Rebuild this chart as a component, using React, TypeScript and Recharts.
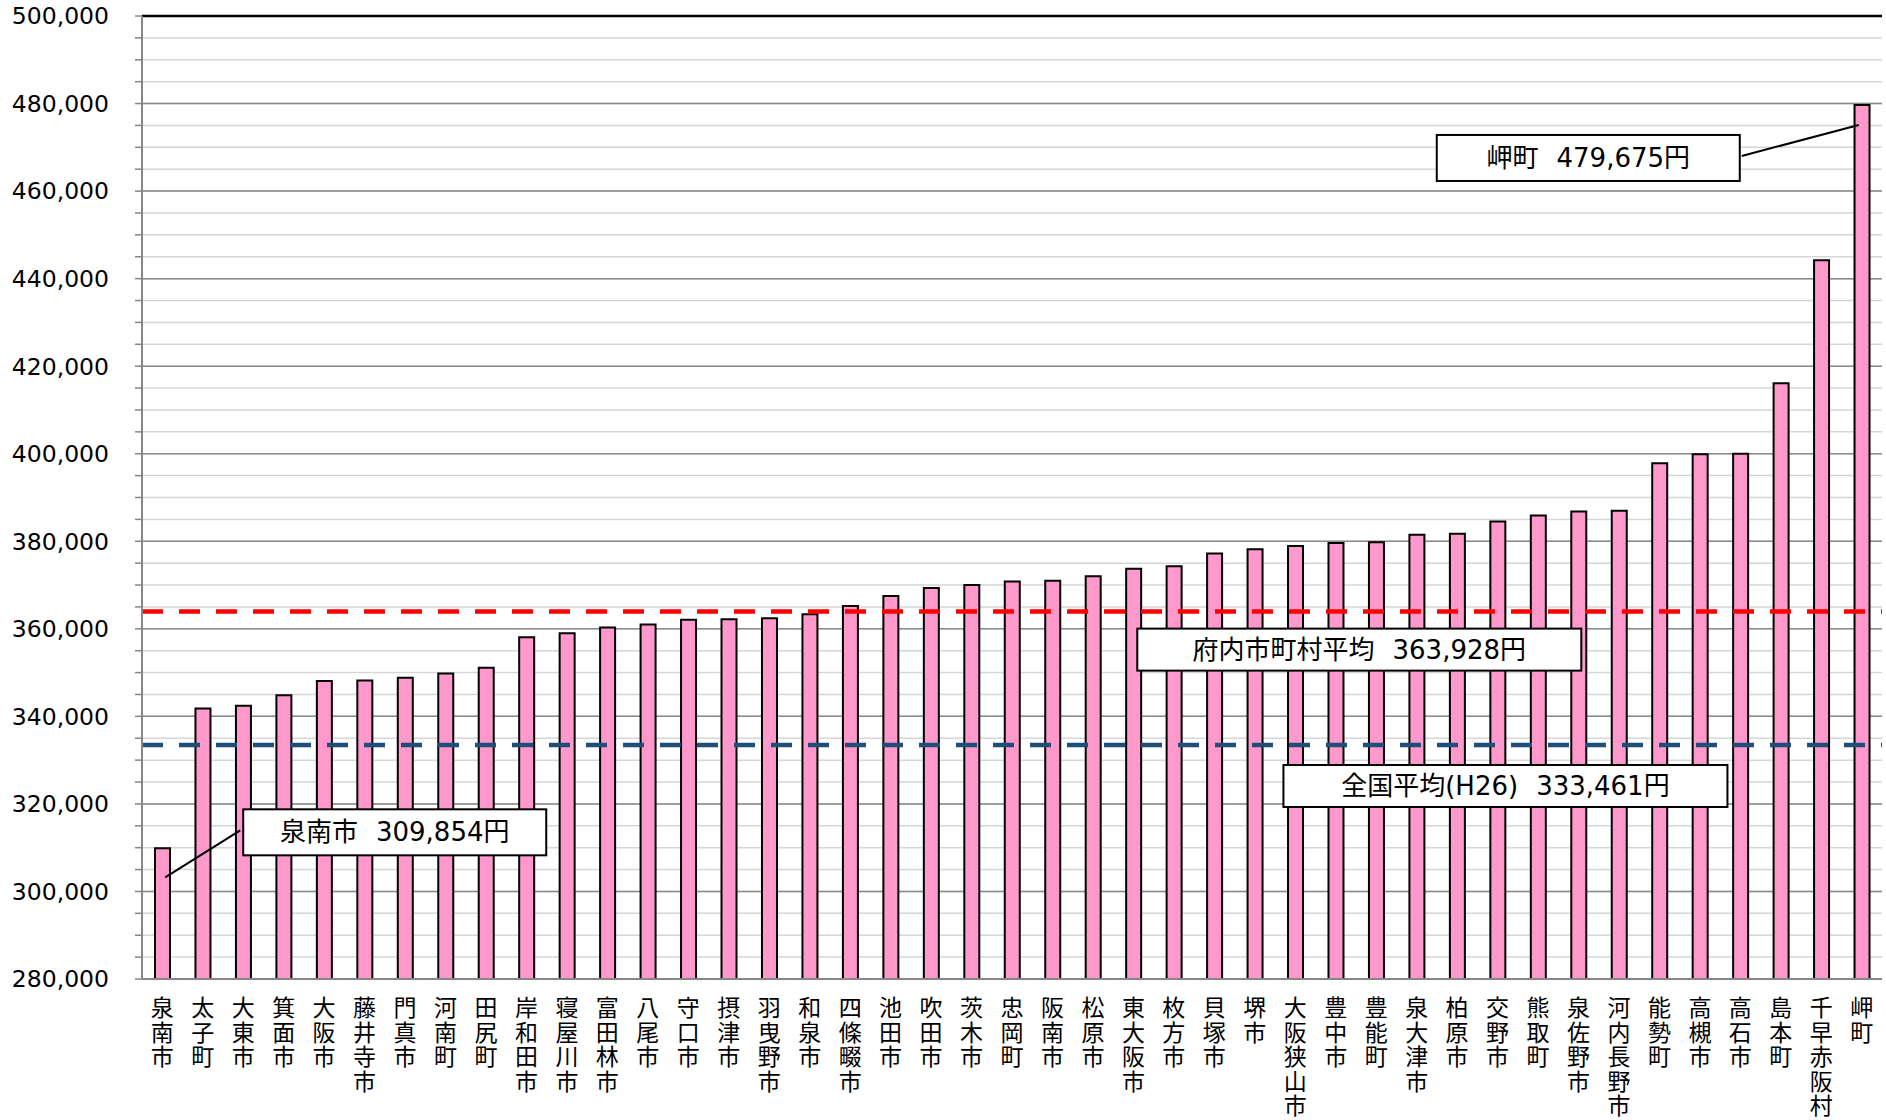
import React from "react";
import {
  Bar,
  BarChart,
  CartesianGrid,
  ReferenceDot,
  ReferenceLine,
  XAxis,
  YAxis,
} from "recharts";

// 市町村別 一人当たり費用額（昇順）
const cities = [
  "泉南市", "太子町", "大東市", "箕面市", "大阪市", "藤井寺市", "門真市", "河南町",
  "田尻町", "岸和田市", "寝屋川市", "富田林市", "八尾市", "守口市", "摂津市", "羽曳野市",
  "和泉市", "四條畷市", "池田市", "吹田市", "茨木市", "忠岡町", "阪南市", "松原市",
  "東大阪市", "枚方市", "貝塚市", "堺市", "大阪狭山市", "豊中市", "豊能町", "泉大津市",
  "柏原市", "交野市", "熊取町", "泉佐野市", "河内長野市", "能勢町", "高槻市", "高石市",
  "島本町", "千早赤阪村", "岬町",
];
const costs = [
  309854, 341800, 342400, 344800, 348100, 348200, 348800, 349800,
  351100, 358100, 359000, 360300, 361000, 362100, 362200, 362400,
  363300, 365200, 367500, 369300, 370000, 370800, 371000, 372000,
  373700, 374300, 377200, 378200, 378900, 379600, 379800, 381500,
  381700, 384500, 385900, 386800, 387000, 397800, 399900, 400000,
  416100, 444200, 479675,
];
const prefAverage = 363928;
const nationalAverage = 333461;

const yMin = 280000;
const yMax = 500000;
const majorTicks = [
  280000, 300000, 320000, 340000, 360000, 380000, 400000, 420000, 440000, 460000, 480000, 500000,
];
const minorTicks = [
  280000, 285000, 290000, 295000, 300000, 305000, 310000, 315000, 320000, 325000, 330000, 335000,
  340000, 345000, 350000, 355000, 360000, 365000, 370000, 375000, 380000, 385000, 390000, 395000,
  400000, 405000, 410000, 415000, 420000, 425000, 430000, 435000, 440000, 445000, 450000, 455000,
  460000, 465000, 470000, 475000, 480000, 485000, 490000, 495000, 500000,
];

const data = cities.map((name, i) => ({ name, cost: costs[i] }));

const LABEL_FONT = "'DejaVu Sans', 'Noto Sans CJK JP', sans-serif";
const yen = (v: number) => v.toLocaleString("en-US");

function CityTick({ x, y, payload }: any) {
  const chars = Array.from(String(payload.value));
  return (
    <text x={x} y={y} textAnchor="middle" fontSize={23} fontFamily="'Noto Sans CJK JP'" fill="#000">
      {chars.map((c, i) => (
        <tspan key={i} x={x} dy={i === 0 ? 37 : 24.5}>
          {c}
        </tspan>
      ))}
    </text>
  );
}

function BoxText({ cx, cy, name, value }: { cx: number; cy: number; name: string; value: number }) {
  return (
    <text x={cx} y={cy + 9} textAnchor="middle" fontSize={26} fontFamily={LABEL_FONT} fill="#000">
      <tspan>{name}</tspan>
      <tspan dx={18}>{yen(value)}円</tspan>
    </text>
  );
}

// 平均線のラベル（線の下に置く箱）
function AvgLabel({ viewBox, name, value, at, gap }: any) {
  if (!viewBox) return null;
  const w = 444;
  const h = 42;
  const left = viewBox.x + viewBox.width * at;
  const top = viewBox.y + gap;
  return (
    <g>
      <rect x={left} y={top} width={w} height={h} fill="#fff" stroke="#000" strokeWidth={2} />
      <BoxText cx={left + w / 2} cy={top + h / 2} name={name} value={value} />
    </g>
  );
}

// 引出線付きの吹き出し
function Callout({ cx, cy, name, value, lx, ly, ex, ey, bx, by }: any) {
  if (cx == null || cy == null) return null;
  const w = 303;
  const h = 46;
  return (
    <g>
      <line x1={cx + lx} y1={cy + ly} x2={cx + ex} y2={cy + ey} stroke="#000" strokeWidth={2} />
      <rect x={cx + bx} y={cy + by} width={w} height={h} fill="#fff" stroke="#000" strokeWidth={2} />
      <BoxText cx={cx + bx + w / 2} cy={cy + by + h / 2} name={name} value={value} />
    </g>
  );
}

export default function App() {
  const first = data[0];
  const last = data[data.length - 1];
  return (
    <div
      style={{
        position: "absolute",
        left: 0,
        top: 0,
        width: 1886,
        height: 1120,
        background: "#fff",
        overflow: "hidden",
      }}
    >
      <BarChart
        width={1886}
        height={1120}
        data={data}
        margin={{ top: 16, right: 4, bottom: 0, left: 0 }}
      >
        <CartesianGrid
          vertical={false}
          horizontalValues={minorTicks.filter((v) => v < yMax)}
          stroke="#d6d6d6"
          strokeWidth={1.5}
        />
        <CartesianGrid
          vertical={false}
          horizontalValues={majorTicks.filter((v) => v < yMax)}
          stroke="#8a8a8a"
          strokeWidth={1.5}
        />
        <XAxis
          dataKey="name"
          interval={0}
          height={141}
          tickSize={0}
          tickMargin={0}
          tickLine={false}
          tick={<CityTick />}
          axisLine={{ stroke: "#868686", strokeWidth: 2 }}
        />
        <YAxis
          domain={[yMin, yMax]}
          ticks={minorTicks}
          interval={0}
          width={142}
          tickSize={7}
          tickMargin={26}
          tickFormatter={(v: number) => (majorTicks.includes(v) ? yen(v) : "")}
          tick={{ fontSize: 23.5, fill: "#000", fontFamily: "'DejaVu Sans'" }}
          tickLine={{ stroke: "#868686", strokeWidth: 1.5 }}
          axisLine={{ stroke: "#868686", strokeWidth: 2 }}
        />
        <YAxis
          yAxisId="right"
          orientation="right"
          domain={[yMin, yMax]}
          width={0}
          tick={false}
          tickLine={false}
          axisLine={{ stroke: "#000", strokeWidth: 3 }}
        />
        <Bar
          dataKey="cost"
          fill="#ff99cc"
          stroke="#000"
          strokeWidth={2}
          barSize={15}
          isAnimationActive={false}
        />
        <ReferenceLine y={yMax} stroke="#000" strokeWidth={2.5} />
        <ReferenceLine
          y={nationalAverage}
          stroke="#1f4e79"
          strokeWidth={4.5}
          strokeDasharray="21 16"
          label={<AvgLabel name="全国平均(H26)" value={nationalAverage} at={0.656} gap={20} />}
        />
        <ReferenceLine
          y={prefAverage}
          stroke="#ff0000"
          strokeWidth={4.5}
          strokeDasharray="21 16"
          label={<AvgLabel name="府内市町村平均" value={prefAverage} at={0.572} gap={17} />}
        />
        <ReferenceDot
          x={first.name}
          y={first.cost}
          r={0}
          shape={(p: any) => (
            <Callout
              cx={p.cx}
              cy={p.cy}
              name={first.name}
              value={first.cost}
              lx={3}
              ly={29}
              ex={78}
              ey={-18}
              bx={81}
              by={-39}
            />
          )}
        />
        <ReferenceDot
          x={last.name}
          y={last.cost}
          r={0}
          shape={(p: any) => (
            <Callout
              cx={p.cx}
              cy={p.cy}
              name={last.name}
              value={last.cost}
              lx={-3}
              ly={20}
              ex={-120}
              ey={51}
              bx={-425}
              by={30}
            />
          )}
        />
      </BarChart>
    </div>
  );
}
